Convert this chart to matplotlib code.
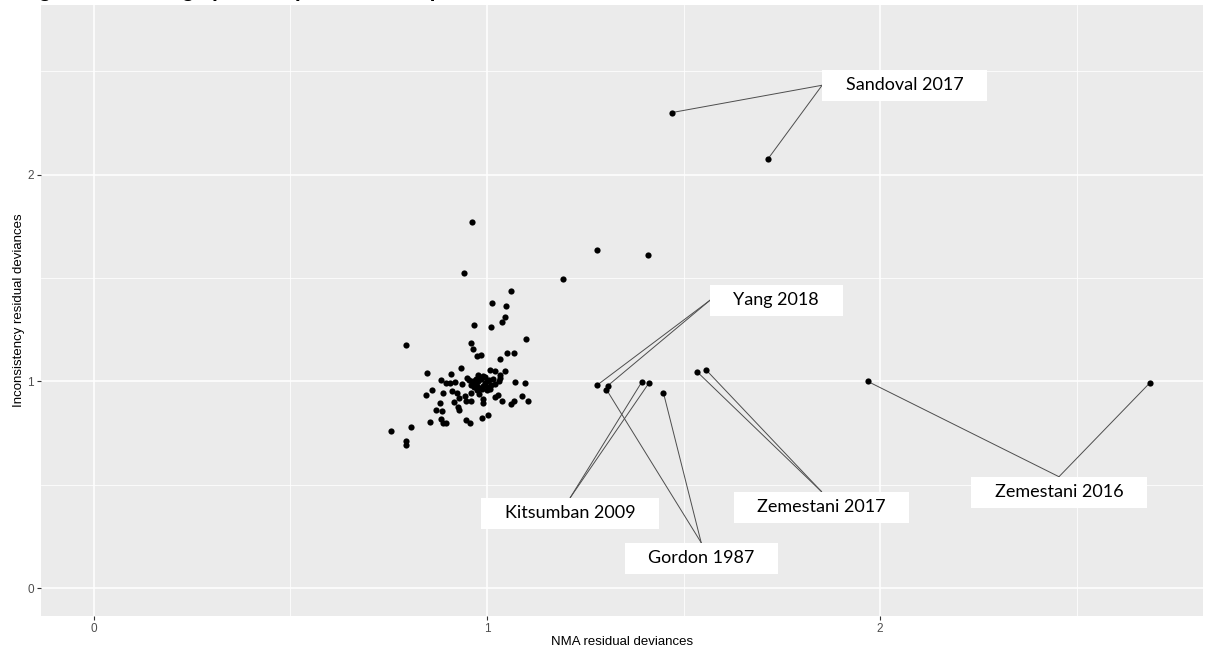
import matplotlib.pyplot as plt
from matplotlib.path import Path

# residual deviance per data point: NMA model (x) vs inconsistency model (y)
nma_dev = [0.962, 0.942, 1.060, 1.014, 1.049, 1.046, 1.039, 0.967, 1.010, 0.793,
           1.099, 0.960, 0.965, 0.975, 0.985, 1.050, 1.068, 1.033, 0.935, 0.848,
           0.908, 1.007, 1.020, 1.047, 1.034, 1.034, 0.882, 0.895, 0.907, 0.920,
           0.936, 0.950, 0.978, 0.995, 1.072, 1.098, 0.845, 0.861, 0.887, 0.912,
           0.923, 0.943, 0.960, 0.929, 0.915, 0.946, 0.960, 0.991, 0.991, 1.009,
           1.021, 1.029, 1.039, 1.062, 1.070, 1.090, 1.104, 0.880, 0.870, 0.885,
           0.926, 0.930, 0.882, 0.889, 0.895, 0.855, 0.946, 0.956, 0.988, 1.004,
           0.807, 0.757, 0.795, 0.795, 1.279, 1.410, 1.194,
           1.000, 0.990, 0.980, 0.975, 0.970, 0.985, 0.995, 1.005, 1.010, 0.965,
           0.980, 1.015, 0.990, 0.975, 0.960, 0.955, 1.020, 1.030, 1.000, 0.980,
           0.968, 0.988, 0.978, 1.002, 0.972]
ume_dev = [1.772, 1.524, 1.438, 1.380, 1.363, 1.314, 1.290, 1.271, 1.264, 1.177,
           1.205, 1.184, 1.158, 1.122, 1.129, 1.138, 1.138, 1.108, 1.064, 1.043,
           1.037, 1.058, 1.053, 1.050, 1.032, 1.017, 1.006, 0.992, 0.995, 0.997,
           0.990, 1.016, 1.030, 1.022, 0.997, 0.995, 0.935, 0.958, 0.945, 0.952,
           0.942, 0.930, 0.942, 0.918, 0.900, 0.906, 0.905, 0.913, 0.894, 0.966,
           0.924, 0.935, 0.908, 0.889, 0.908, 0.930, 0.905, 0.895, 0.861, 0.855,
           0.877, 0.863, 0.818, 0.797, 0.797, 0.803, 0.816, 0.797, 0.822, 0.837,
           0.782, 0.760, 0.710, 0.692, 1.635, 1.611, 1.498,
           1.000, 0.980, 0.970, 0.960, 0.990, 1.010, 0.995, 1.005, 0.985, 1.000,
           1.020, 1.010, 1.025, 0.980, 0.985, 1.005, 0.990, 1.000, 0.960, 0.940,
           0.975, 0.965, 1.000, 0.975, 1.012]

# points flagged with the study name
lab_study = ['Sandoval 2017', 'Sandoval 2017', 'Yang 2018', 'Yang 2018',
             'Gordon 1987', 'Kitsumban 2009', 'Kitsumban 2009', 'Gordon 1987',
             'Zemestani 2017', 'Zemestani 2017', 'Zemestani 2016', 'Zemestani 2016']
lab_nma = [1.471, 1.715, 1.280, 1.307, 1.304, 1.394, 1.413, 1.449,
           1.534, 1.558, 1.968, 2.686]
lab_ume = [2.301, 2.077, 0.982, 0.979, 0.961, 0.998, 0.995, 0.945,
           1.048, 1.055, 1.001, 0.993]

# where each label box sits, and which edge the segments leave from
label_pos = {
    'Sandoval 2017': (2.062, 2.433, 'left'),
    'Yang 2018': (1.736, 1.393, 'left'),
    'Kitsumban 2009': (1.212, 0.363, 'top'),
    'Gordon 1987': (1.545, 0.145, 'top'),
    'Zemestani 2017': (1.851, 0.392, 'top'),
    'Zemestani 2016': (2.455, 0.464, 'top'),
}


def wide_box(x0, y0, width, height, mutation_size):
    # plain rectangle, more padding left/right than top/bottom
    px = 1.3 * mutation_size
    py = 0.42 * mutation_size
    x0, y0 = x0 - px, y0 - py
    x1, y1 = x0 + width + 2 * px, y0 + height + 2 * py
    return Path([(x0, y0), (x1, y0), (x1, y1), (x0, y1), (x0, y0)], closed=True)


plt.rcParams['font.family'] = ['Liberation Sans', 'DejaVu Sans']

fig = plt.figure(figsize=(12.05, 6.48), dpi=100)
ax = fig.add_axes([0.034, 0.0494, 0.964, 0.9426])
ax.set_facecolor('#EBEBEB')
for s in ax.spines.values():
    s.set_visible(False)

ax.scatter(nma_dev + lab_nma, ume_dev + lab_ume, s=20, color='black',
           linewidths=0, zorder=3)

# same 0..max range on both axes, padded 5% like ggplot
top = max(nma_dev + lab_nma + ume_dev + lab_ume)
ax.set_xlim(-0.05 * top, 1.05 * top)
ax.set_ylim(-0.05 * top, 1.05 * top)

boxes = {}
for study, (lx, ly, side) in label_pos.items():
    boxes[study] = ax.text(lx, ly, study, ha='center', va='center',
                           fontsize=13, family='Lato', color='black', zorder=4,
                           bbox=dict(boxstyle=wide_box, fc='white', ec='none'))

ax.set_xticks([0, 1, 2])
ax.set_yticks([0, 1, 2])
ax.set_xticks([0.5, 1.5, 2.5], minor=True)
ax.set_yticks([0.5, 1.5, 2.5], minor=True)
ax.grid(which='major', color='white', lw=1.1)
ax.grid(which='minor', color='white', lw=0.55)
ax.set_axisbelow(True)
ax.tick_params(which='major', length=2.75, width=0.8, color='#333333',
               labelcolor='#4D4D4D', labelsize=8.5, pad=2.2)
ax.tick_params(which='minor', length=0)

ax.set_xlabel('NMA residual deviances', fontsize=9.5, labelpad=0.5)
ax.set_ylabel('Inconsistency residual deviances', fontsize=9.5, labelpad=2)

# title sits above the top edge, only its bottom shows
fig.text(0.017, 1.005, 'Figure 6: Leverage plot: response in completers',
         ha='left', va='baseline', fontsize=15, fontweight='bold')

# segments run from each point to the middle of the label's near edge
fig.canvas.draw()
rend = fig.canvas.get_renderer()
to_data = ax.transData.inverted()
for i, study in enumerate(lab_study):
    bb = boxes[study].get_bbox_patch().get_window_extent(rend)
    if label_pos[study][2] == 'left':
        edge = (bb.x0, (bb.y0 + bb.y1) / 2)
    else:
        edge = ((bb.x0 + bb.x1) / 2, bb.y1)
    ex, ey = to_data.transform(edge)
    ax.plot([ex, lab_nma[i]], [ey, lab_ume[i]], color='#4d4d4d', lw=0.7,
            zorder=2)

fig.savefig('out.png', dpi=100)
